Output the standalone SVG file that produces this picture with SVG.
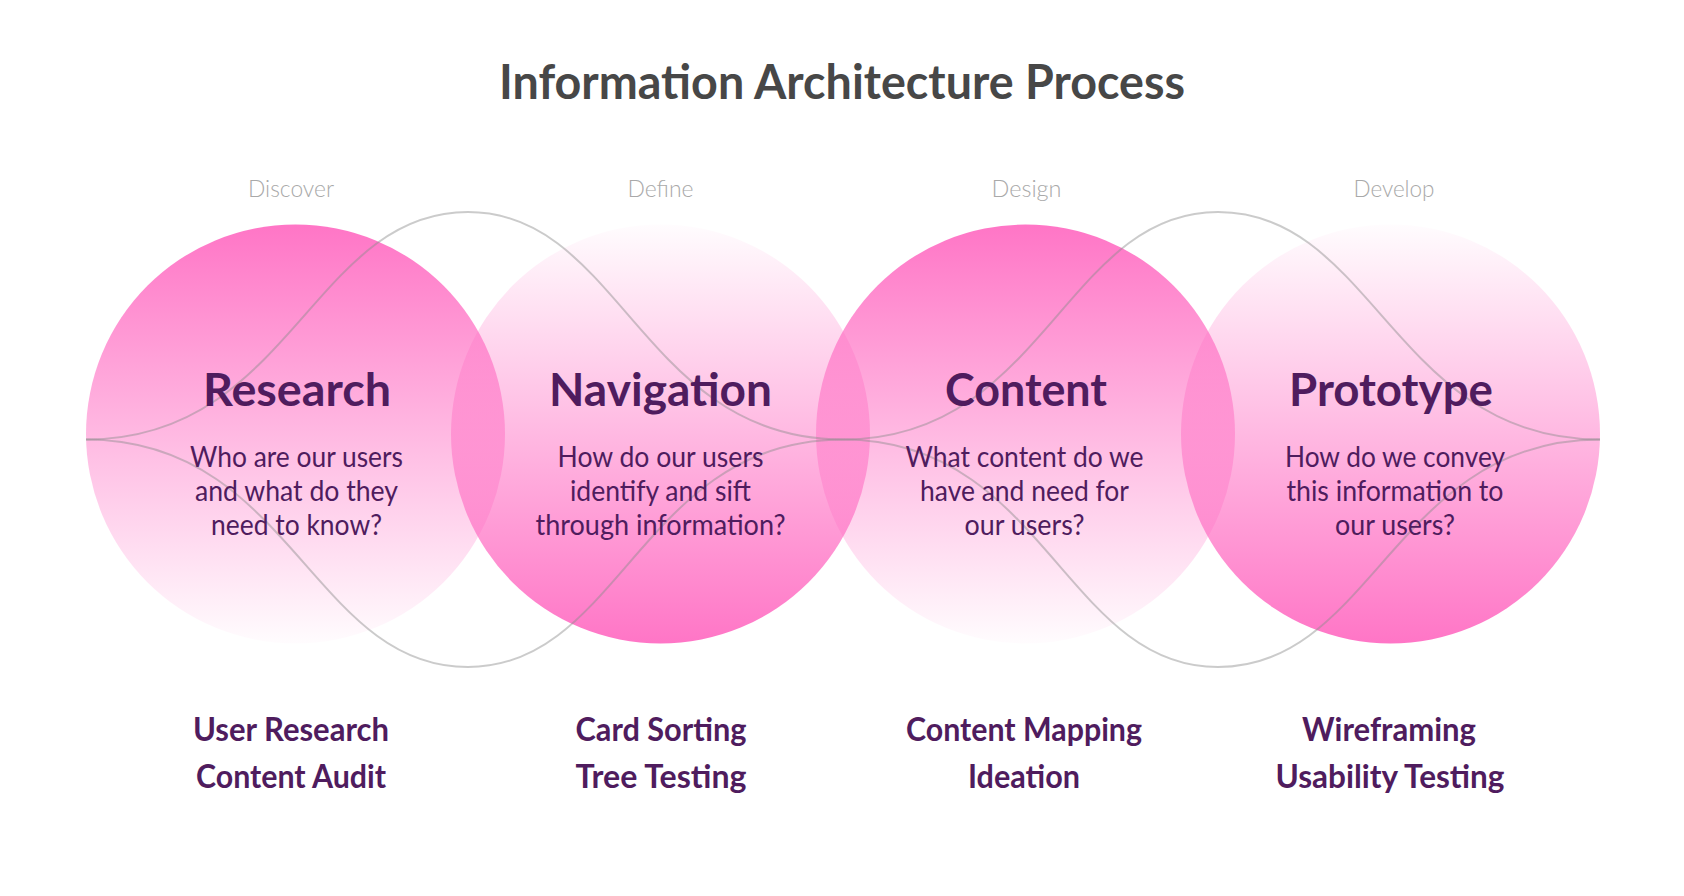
<svg xmlns="http://www.w3.org/2000/svg" width="1684" height="896" viewBox="0 0 1684 896">
  <style>
    text { font-family: Lato, "Liberation Sans", sans-serif; text-anchor: middle; }
    .title { font-size: 47px; font-weight: 700; fill: #474747; }
    .phase { font-size: 23px; font-weight: 300; fill: #a9a9a9; }
    .head { font-size: 46px; font-weight: 700; fill: #4f1c5e; }
    .body { font-size: 28px; font-weight: 400; fill: #4f1c5e; }
    .task { font-size: 32px; font-weight: 700; fill: #4f1c5e; }
    .wave { fill: none; stroke: #8c8c8c; stroke-opacity: 0.45; stroke-width: 2; }
  </style>
  <defs>
    <linearGradient id="down" x1="0" y1="0" x2="0" y2="1">
      <stop offset="0" stop-color="#ff6ec3" stop-opacity="0.95"/>
      <stop offset="1" stop-color="#ff6ec3" stop-opacity="0.02"/>
    </linearGradient>
    <linearGradient id="up" x1="0" y1="0" x2="0" y2="1">
      <stop offset="0" stop-color="#ff6ec3" stop-opacity="0.02"/>
      <stop offset="1" stop-color="#ff6ec3" stop-opacity="0.95"/>
    </linearGradient>
  </defs>
  <rect width="1684" height="896" fill="#ffffff"/>

  <text class="title" x="842" y="99" textLength="686" lengthAdjust="spacingAndGlyphs">Information Architecture Process</text>

  <g id="node-research">
    <circle cx="295.5" cy="434" r="209.5" fill="url(#down)"/>
  </g>
  <g id="node-navigation">
    <circle cx="660.5" cy="434" r="209.5" fill="url(#up)"/>
  </g>
  <g id="node-content">
    <circle cx="1025.5" cy="434" r="209.5" fill="url(#down)"/>
  </g>
  <g id="node-prototype">
    <circle cx="1390.5" cy="434" r="209.5" fill="url(#up)"/>
  </g>

  <g id="connectors">
    <path class="wave" d="M86,439.5 C291,439.5 312,212 468,212 C621,212 642,439.5 843,439.5"/>
    <path class="wave" d="M86,439.5 C291,439.5 312,667 468,667 C621,667 642,439.5 843,439.5"/>
    <path class="wave" d="M843,439.5 C1044,439.5 1065,212 1218,212 C1374,212 1395,439.5 1600,439.5"/>
    <path class="wave" d="M843,439.5 C1044,439.5 1065,667 1218,667 C1374,667 1395,439.5 1600,439.5"/>
  </g>

  <g id="label-research">
    <text class="phase" x="291" y="197" textLength="86" lengthAdjust="spacingAndGlyphs">Discover</text>
    <text class="head" x="297" y="406" textLength="188" lengthAdjust="spacingAndGlyphs">Research</text>
    <text class="body" x="296.5" y="467" textLength="213" lengthAdjust="spacingAndGlyphs">Who are our users</text>
    <text class="body" x="296.5" y="501" textLength="203" lengthAdjust="spacingAndGlyphs">and what do they</text>
    <text class="body" x="296.5" y="535" textLength="171" lengthAdjust="spacingAndGlyphs">need to know?</text>
    <text class="task" x="291" y="741" textLength="196" lengthAdjust="spacingAndGlyphs">User Research</text>
    <text class="task" x="291" y="788" textLength="190" lengthAdjust="spacingAndGlyphs">Content Audit</text>
  </g>
  <g id="label-navigation">
    <text class="phase" x="660.5" y="197" textLength="66" lengthAdjust="spacingAndGlyphs">Define</text>
    <text class="head" x="660.5" y="406" textLength="223" lengthAdjust="spacingAndGlyphs">Navigation</text>
    <text class="body" x="660.5" y="467" textLength="206" lengthAdjust="spacingAndGlyphs">How do our users</text>
    <text class="body" x="660.5" y="501" textLength="181" lengthAdjust="spacingAndGlyphs">identify and sift</text>
    <text class="body" x="660.5" y="535" textLength="250" lengthAdjust="spacingAndGlyphs">through information?</text>
    <text class="task" x="661" y="741" textLength="171" lengthAdjust="spacingAndGlyphs">Card Sorting</text>
    <text class="task" x="661" y="788" textLength="171" lengthAdjust="spacingAndGlyphs">Tree Testing</text>
  </g>
  <g id="label-content">
    <text class="phase" x="1026.5" y="197" textLength="70" lengthAdjust="spacingAndGlyphs">Design</text>
    <text class="head" x="1026" y="406" textLength="162" lengthAdjust="spacingAndGlyphs">Content</text>
    <text class="body" x="1024.5" y="467" textLength="238" lengthAdjust="spacingAndGlyphs">What content do we</text>
    <text class="body" x="1024.5" y="501" textLength="209" lengthAdjust="spacingAndGlyphs">have and need for</text>
    <text class="body" x="1024.5" y="535" textLength="120" lengthAdjust="spacingAndGlyphs">our users?</text>
    <text class="task" x="1024" y="741" textLength="236" lengthAdjust="spacingAndGlyphs">Content Mapping</text>
    <text class="task" x="1024" y="788" textLength="112" lengthAdjust="spacingAndGlyphs">Ideation</text>
  </g>
  <g id="label-prototype">
    <text class="phase" x="1394" y="197" textLength="81" lengthAdjust="spacingAndGlyphs">Develop</text>
    <text class="head" x="1391" y="406" textLength="204" lengthAdjust="spacingAndGlyphs">Prototype</text>
    <text class="body" x="1395" y="467" textLength="220" lengthAdjust="spacingAndGlyphs">How do we convey</text>
    <text class="body" x="1395" y="501" textLength="217" lengthAdjust="spacingAndGlyphs">this information to</text>
    <text class="body" x="1395" y="535" textLength="120" lengthAdjust="spacingAndGlyphs">our users?</text>
    <text class="task" x="1389" y="741" textLength="174" lengthAdjust="spacingAndGlyphs">Wireframing</text>
    <text class="task" x="1390" y="788" textLength="229" lengthAdjust="spacingAndGlyphs">Usability Testing</text>
  </g>
</svg>
